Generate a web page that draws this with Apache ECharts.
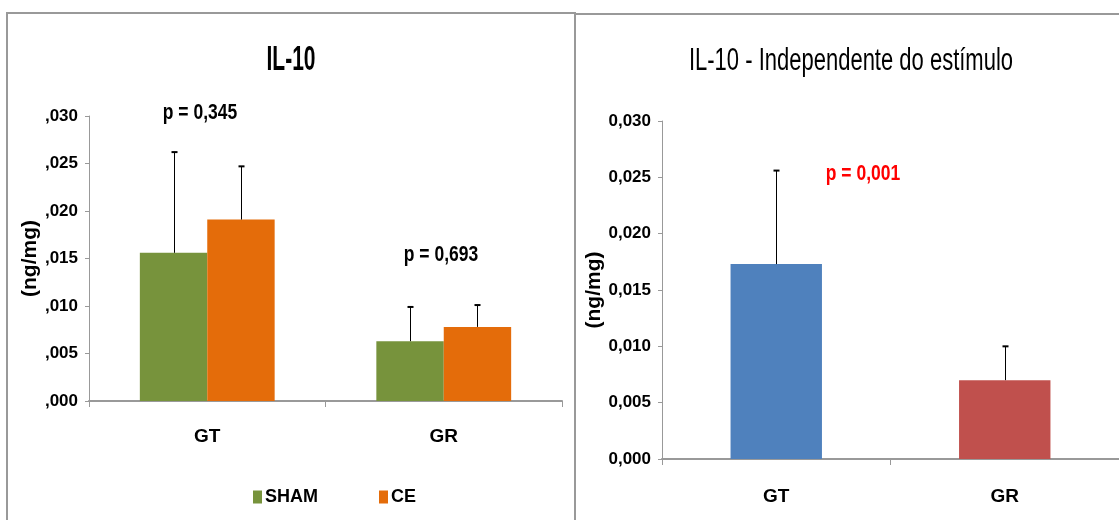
<!DOCTYPE html>
<html>
<head>
<meta charset="utf-8">
<script src="https://cdn.jsdelivr.net/npm/echarts@6/dist/echarts.min.js"></script>
<style>
  html, body { margin: 0; padding: 0; background: #fff; }
  #chart { width: 1119px; height: 520px; }
</style>
</head>
<body>
<div id="chart"></div>
<script>
// left panel: IL-10 by group and stimulus
const groups = ['GT', 'GR']
const shamMean = [0.0156, 0.0063]
const shamErr = [0.0106, 0.0036]
const ceMean = [0.0191, 0.0078]
const ceErr = [0.0056, 0.0023]
const leftTicks = [',000', ',005', ',010', ',015', ',020', ',025', ',030']

// right panel: independent of stimulus
const pooledMean = [0.0173, 0.0070]
const pooledErr = [0.0083, 0.0030]
const rightTicks = ['0,000', '0,005', '0,010', '0,015', '0,020', '0,025', '0,030']

const FONT = '"Liberation Sans", Arial, sans-serif'
const BAR_RATIO = 0.285

const chart = echarts.init(document.getElementById('chart'))

function errorBars(offset) {
  return function (params, api) {
    const band = api.size([1, 0])[0]
    const base = api.coord([api.value(0), api.value(1)])
    const top = api.coord([api.value(0), api.value(1) + api.value(2)])
    const x = Math.round(base[0] + offset * band) + 0.5
    return {
      type: 'group',
      children: [
        { type: 'line', shape: { x1: x, y1: base[1], x2: x, y2: top[1] }, style: { stroke: '#000', lineWidth: 1 } },
        { type: 'line', shape: { x1: x - 3, y1: top[1], x2: x + 3, y2: top[1] }, style: { stroke: '#000', lineWidth: 2 } }
      ]
    }
  }
}

function yAxis(gridIndex, ticks) {
  return {
    type: 'value',
    gridIndex: gridIndex,
    min: 0,
    max: 0.03,
    interval: 0.005,
    name: '(ng/mg)',
    nameLocation: 'middle',
    nameGap: gridIndex === 0 ? 36 : 31,
    nameTextStyle: { fontFamily: FONT, fontWeight: 'bold', fontSize: 21, color: '#000' },
    axisLine: { show: true, lineStyle: { color: '#999', width: 1 } },
    axisTick: { show: true, length: 4, lineStyle: { color: '#999' } },
    splitLine: { show: false },
    axisLabel: {
      margin: 11,
      color: '#000',
      fontFamily: FONT,
      fontWeight: 'bold',
      fontSize: 17,
      formatter: v => ticks[Math.round(v / 0.005)]
    }
  }
}

function xAxis(gridIndex, margin) {
  return {
    type: 'category',
    gridIndex: gridIndex,
    data: groups,
    axisLine: { lineStyle: { color: '#999', width: 2 } },
    axisTick: { show: true, length: 6, lineStyle: { color: '#999' } },
    axisLabel: { margin: margin, color: '#000', fontFamily: FONT, fontWeight: 'bold', fontSize: 19 }
  }
}

function label(text, x, y, size, scaleY, extra) {
  return {
    type: 'text', x: x, y: y, scaleY: scaleY, silent: true,
    style: Object.assign({ text: text, fontFamily: FONT, fontWeight: 'bold', fontSize: size, fill: '#000', align: 'center', verticalAlign: 'middle' }, extra || {})
  }
}

const option = {
  animation: false,
  grid: [
    { left: 89, top: 116, width: 473, height: 285 },
    { left: 662, top: 121, width: 458, height: 338 }
  ],
  legend: {
    data: ['SHAM', 'CE'],
    left: 253,
    top: 488,
    padding: 0,
    itemWidth: 9,
    itemHeight: 13,
    itemGap: 61,
    icon: 'rect',
    textStyle: { fontFamily: FONT, fontWeight: 'bold', fontSize: 18, color: '#000', padding: [0, 0, 0, -2] }
  },
  xAxis: [xAxis(0, 26), xAxis(1, 28)],
  yAxis: [yAxis(0, leftTicks), yAxis(1, rightTicks)],
  series: [
    {
      name: 'SHAM', type: 'bar', xAxisIndex: 0, yAxisIndex: 0,
      data: shamMean, barWidth: (BAR_RATIO * 100) + '%', barGap: '0%',
      itemStyle: { color: '#77933C' }
    },
    {
      name: 'CE', type: 'bar', xAxisIndex: 0, yAxisIndex: 0,
      data: ceMean, barWidth: (BAR_RATIO * 100) + '%', barGap: '0%',
      itemStyle: { color: '#E46C0A' }
    },
    {
      type: 'custom', xAxisIndex: 0, yAxisIndex: 0, z: 5,
      renderItem: errorBars(-BAR_RATIO / 2),
      data: groups.map((g, i) => [i, shamMean[i], shamErr[i]])
    },
    {
      type: 'custom', xAxisIndex: 0, yAxisIndex: 0, z: 5,
      renderItem: errorBars(BAR_RATIO / 2),
      data: groups.map((g, i) => [i, ceMean[i], ceErr[i]])
    },
    {
      type: 'bar', xAxisIndex: 1, yAxisIndex: 1, barWidth: '40%',
      data: pooledMean.map((v, i) => ({ value: v, itemStyle: { color: i === 0 ? '#4F81BD' : '#C0504D' } }))
    },
    {
      type: 'custom', xAxisIndex: 1, yAxisIndex: 1, z: 5,
      renderItem: errorBars(0),
      data: groups.map((g, i) => [i, pooledMean[i], pooledErr[i]])
    }
  ],
  graphic: [
    // panel frames
    { type: 'rect', shape: { x: 7, y: 13, width: 568, height: 530 }, style: { fill: 'none', stroke: '#999', lineWidth: 2 }, silent: true },
    { type: 'line', shape: { x1: 575, y1: 14, x2: 1119, y2: 14 }, style: { stroke: '#999', lineWidth: 2 }, silent: true },
    // titles
    label('IL-10', 291, 60, 21, 1.7),
    label('IL-10 - Independente do estímulo', 851, 62, 22, 1.4, { fontWeight: 'normal' }),
    // p values
    label('p = 0,345', 200, 113, 17.5, 1.3),
    label('p = 0,693', 441, 255, 17.5, 1.3),
    label('p = 0,001', 863, 174, 17.5, 1.3, { fill: '#FF0000' })
  ]
}

chart.setOption(option)
</script>
</body>
</html>
